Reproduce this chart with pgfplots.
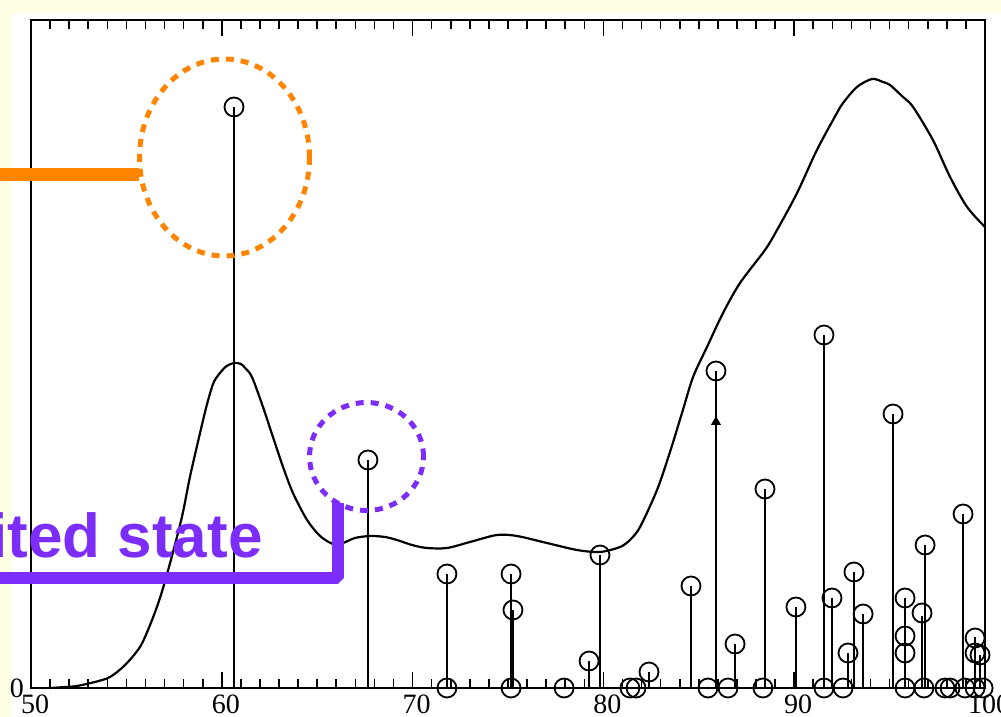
\documentclass[border=0pt]{standalone}
\usepackage{pgfplots}
\pgfplotsset{compat=1.18}
\usepackage{pgfplotstable}
\usepackage{fontspec}
\setmainfont{Liberation Serif}
\newfontfamily\annot{Liberation Sans}
\definecolor{bgy}{RGB}{255,255,230}
\definecolor{orng}{RGB}{255,132,0}
\definecolor{purp}{RGB}{125,45,250}

\pgfplotstableread{
x y
51.00 0
51.80 1
52.41 2
53.35 6
54.14 11
54.93 23
55.71 41
56.24 63
56.76 90
57.29 125
57.91 171
58.33 211
58.86 255
59.20 282
59.54 304
59.82 313
60.25 322
60.66 325
61.00 324
61.22 320
61.58 311
62.16 281
62.68 251
63.21 221
63.73 195
64.47 168
65.15 152
65.83 144
66.35 145
66.98 150
67.77 152
68.55 151
69.18 148
69.97 143
70.75 140
71.80 140
73.01 146
74.42 153
75.47 152
77.04 145
78.62 138
79.82 136
80.87 141
81.39 148
81.92 161
82.81 198
83.49 236
84.12 275
84.70 311
85.43 341
86.27 375
87.16 405
88.47 438
89.10 458
90.15 495
91.19 538
92.24 575
92.56 585
93.29 601
94.08 609
94.65 606
95.02 603
95.70 591
96.23 581
97.27 548
98.17 511
99.06 481
100.00 461
}\curvedata

\pgfplotstableread{
x y
67.66 228
71.80 114
75.16 114
75.26 78
79.25 27
79.82 133
82.39 16
84.59 102
85.90 317
86.90 44
88.47 199
90.09 81
91.56 353
91.98 90
92.82 35
93.13 116
93.61 74
95.18 274
95.81 90
96.86 143
96.70 72
98.85 174
99.48 51
99.74 33
}\stemdata

\pgfplotstableread{
x y
60.64 581
67.66 228
71.80 114
71.80 0
75.16 114
75.26 78
75.16 0
77.94 0
79.25 27
79.82 133
81.39 0
81.71 0
82.39 16
84.59 102
85.48 0
86.53 0
85.90 317
86.90 44
88.36 0
88.47 199
90.09 81
91.56 353
91.56 0
91.98 90
92.56 0
92.82 35
93.13 116
93.61 74
95.18 274
95.81 90
95.81 52
95.81 35
95.81 0
96.86 143
96.70 75
96.80 0
97.90 0
98.17 0
98.85 174
98.95 0
99.48 50
99.48 35
99.74 33
99.48 0
99.90 0
}\circdata

\begin{document}
\begin{tikzpicture}
\useasboundingbox (0pt,0pt) rectangle (500.5pt,358.5pt);
\fill[bgy] (0pt,0pt) rectangle (500.5pt,358.5pt);
\fill[white] (6pt,0pt) rectangle (500.5pt,352pt);
\begin{axis}[
  at={(15.5pt,14.5pt)}, anchor=south west,
  scale only axis, width=477pt, height=334pt,
  xmin=50, xmax=100, ymin=0, ymax=668,
  xtick={50,60,70,80,90,100},
  minor x tick num=9,
  ytick={0}, yticklabels={0},
  ytick style={draw=none},
  axis line style={line width=1.4pt},
  xtick style={line width=0.8pt, black},
  major tick length=8pt, minor tick length=4.5pt,
  tick label style={font=\fontsize{14}{14}\selectfont},
  /pgf/number format/assume math mode=true,
  xticklabel style={xshift=2pt},
  clip=false,
]
\addplot[black, line width=1.1pt, smooth, tension=0.5] table[x=x,y=y] {\curvedata};
\addplot[black, line width=1.2pt, ycomb, no marks] coordinates {(60.64,581)};
\addplot[black, line width=1pt, ycomb, no marks] table[x=x,y=y] {\stemdata};
\addplot[black, only marks, mark=o, mark size=4.75pt, mark options={line width=0.9pt}] table[x=x,y=y] {\circdata};
\addplot[black, only marks, mark=triangle*, mark size=2.5pt] coordinates {(85.90,266)};
\end{axis}
\begin{scope}[x=0.5pt,y=0.5pt]
\draw[orng, line width=6.5pt] (0,542) -- (139,542);
\draw[orng, line width=2.5pt, dash pattern=on 4pt off 3.5pt] (224.5,559.5) ellipse [x radius=42.5pt, y radius=49.25pt];
\draw[purp, line width=2.5pt, dash pattern=on 4pt off 3.5pt] (366.5,260.5) ellipse [x radius=28.5pt, y radius=27pt];
\draw[purp, line width=6pt, line join=bevel] (0,139) -- (337.5,139) -- (337.5,214);
\node[anchor=base east, text=purp, inner sep=0pt, font=\annot\bfseries\fontsize{31}{31}\selectfont] at (263,159) {excited state};
\end{scope}
\end{tikzpicture}
\end{document}
